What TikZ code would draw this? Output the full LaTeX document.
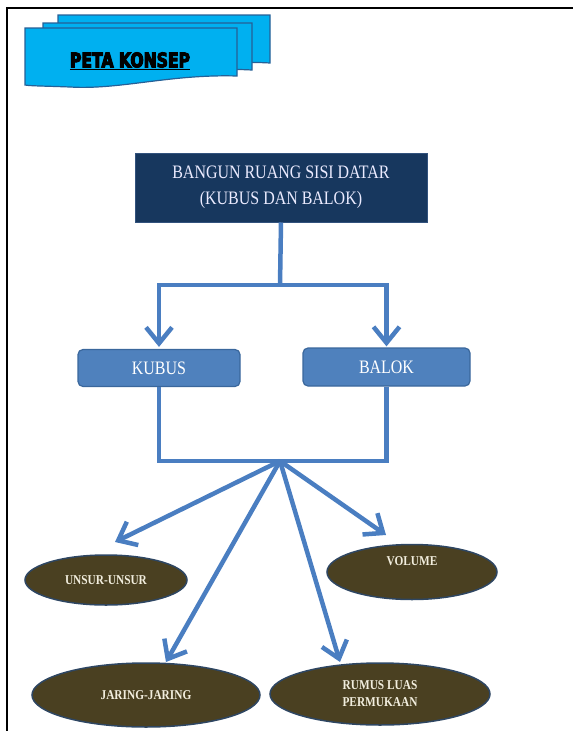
\documentclass[tikz,border=0pt]{standalone}
\usepackage{fontspec}
\setmainfont[FakeStretch=0.84]{Liberation Serif}
\newfontfamily\headfont[FakeStretch=0.78,FakeBold=5]{DejaVu Sans}
\usepackage{tikz}
\usetikzlibrary{arrows.meta}
\usetikzlibrary{shapes.geometric}
\usetikzlibrary{positioning}
\usetikzlibrary{calc}

\definecolor{bannercyan}{RGB}{0,176,240}
\definecolor{bannerline}{RGB}{38,96,150}
\definecolor{navybox}{RGB}{23,55,94}
\definecolor{navyline}{RGB}{50,82,125}
\definecolor{linkblue}{RGB}{74,126,193}
\definecolor{boxblue}{RGB}{79,129,189}
\definecolor{boxline}{RGB}{58,103,156}
\definecolor{olivedark}{RGB}{74,64,33}
\definecolor{ovalline}{RGB}{46,70,98}
\definecolor{creamtext}{RGB}{242,238,222}

\tikzset{
  banner/.style={fill=bannercyan, draw=bannerline, line width=1.2pt},
  link/.style={draw=linkblue, line width=4.5pt},
  tip/.style={-{Straight Barb[length=16pt,width=26pt]}},
  subbox/.style={draw=boxline, fill=boxblue, line width=1.2pt, rounded corners=5pt,
    text=white, font=\fontsize{19}{22}\selectfont, inner sep=0pt},
  oval/.style={ellipse, draw=ovalline, fill=olivedark, line width=1.5pt, text=creamtext,
    font=\fontsize{13.5}{17}\selectfont\bfseries, align=center, inner sep=0pt}
}

\begin{document}
\begin{tikzpicture}[x=1pt,y=-1pt]
	\useasboundingbox (0,0) rectangle (573,731);
	
	%frame
	\draw[line width=2pt] (7,731) -- (7,8) -- (573,8);
	
	%banner
	\draw[banner] (58,15) -- (270,15) -- (270,63) .. controls (220,60) and (170,70) .. (150,70) -- (58,70) -- cycle;
	\draw[banner] (43,23) -- (252,23) -- (252,70) .. controls (200,67) and (150,78) .. (100,78) -- (43,78) -- cycle;
	\draw[banner] (25,28) -- (237,28) -- (237,76) .. controls (170,74) and (120,90) .. (70,87) .. controls (45,86) and (30,86) .. (25,85) -- cycle;
	\node[font=\headfont\bfseries\fontsize{20}{22}\selectfont] (title) at (130,61) {\underline{PETA KONSEP}};
	
	%boxes
	\node[draw=navyline, fill=navybox, line width=1pt, minimum width=292pt, minimum height=69pt,
		text=white!92!blue, align=center, font=\fontsize{19}{26}\selectfont] (top) at (281,187.5)
		{BANGUN RUANG SISI DATAR\\(KUBUS DAN BALOK)};
	\node[subbox, minimum width=162pt, minimum height=37pt] (kubus) at (159,368) {KUBUS};
	\node[subbox, minimum width=167pt, minimum height=38pt] (balok) at (386.5,367) {BALOK};
	
	%ovals
	\node[oval, minimum width=162pt, minimum height=50pt] (unsur) at (106,580) {UNSUR-UNSUR};
	\node[oval, minimum width=170pt, minimum height=55pt] (volume) at (412,572) {VOLUME\\[4pt]};
	\node[oval, minimum width=228pt, minimum height=64pt] (jaring) at (146,695) {JARING-JARING};
	\node[oval, minimum width=220pt, minimum height=62pt] (rumus) at (380,694) {RUMUS LUAS\\PERMUKAAN};
	
	%draw arrow
	\coordinate (split) at (280,285);
	\coordinate (hub) at (280,461);
	\draw[link] (top.south) -- (split);
	\draw[link, tip] (split) -| ($(kubus.north)+(0,-2)$);
	\draw[link, tip] (split) -| ($(balok.north)+(0,-1)$);
	\draw[link] (kubus.south) |- (hub) -| (balok.south);
	
	\coordinate (unsurtip) at (115,542);
	\coordinate (volumetip) at (386,535);
	\coordinate (jaringtip) at (166,662);
	\coordinate (rumustip) at (340,662);
	\draw[link, tip] (hub) -- (unsurtip);
	\draw[link, tip] (hub) -- (volumetip);
	\draw[link, tip] (hub) -- (jaringtip);
	\draw[link, tip] (hub) -- (rumustip);
\end{tikzpicture}
\end{document}
